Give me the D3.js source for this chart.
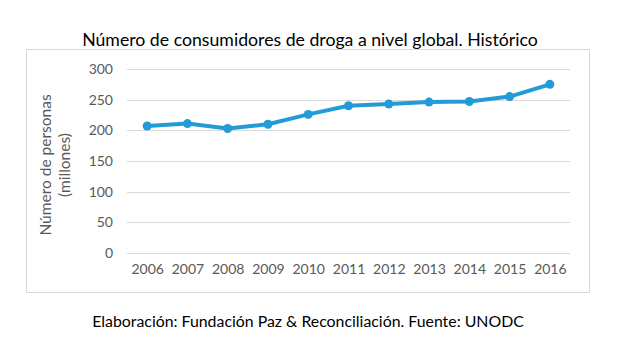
<!DOCTYPE html>
<html>
<head>
<meta charset="utf-8">
<script src="https://cdn.jsdelivr.net/npm/d3@7"></script>
<style>
  body { margin: 0; background: #fff; }
  svg { display: block; font-family: Lato, "Open Sans", sans-serif; }
</style>
</head>
<body>
<svg id="chart" width="620" height="355"></svg>
<script>
const years = ["2006","2007","2008","2009","2010","2011","2012","2013","2014","2015","2016"];
const consumidores = [207, 211, 203, 210, 226, 240, 243, 246, 247, 255, 275];
const yTicks = [0, 50, 100, 150, 200, 250, 300];
const titleText = "Número de consumidores de droga a nivel global. Histórico";
const yLabelLines = ["Número de personas", "(millones)"];
const footerText = "Elaboración: Fundación Paz & Reconciliación. Fuente: UNODC";

const svg = d3.select("#chart");
const plot = { left: 127, right: 570, top: 69, bottom: 253 };

// chart border
svg.append("rect")
  .attr("x", 26.5).attr("y", 49.5)
  .attr("width", 563).attr("height", 243)
  .attr("fill", "none").attr("stroke", "#d9d9d9").attr("stroke-width", 1);

const x = d3.scalePoint().domain(years).range([plot.left, plot.right]).padding(0.5);
const y = d3.scaleLinear().domain([0, 300]).range([plot.bottom, plot.top]);

// gridlines
svg.append("g").selectAll("line").data(yTicks).join("line")
  .attr("x1", plot.left).attr("x2", plot.right)
  .attr("y1", d => Math.round(y(d)) + 0.5).attr("y2", d => Math.round(y(d)) + 0.5)
  .attr("stroke", "#d9d9d9").attr("stroke-width", 1);

// y axis
const yAxis = svg.append("g")
  .attr("transform", `translate(${plot.left},0)`)
  .call(d3.axisLeft(y).tickValues(yTicks).tickSize(0).tickPadding(14));
yAxis.select(".domain").remove();
yAxis.selectAll("text").attr("fill", "#595959").style("font-size", "14px")
  .style("font-family", "Lato, 'Open Sans', sans-serif");

// x axis
const xAxis = svg.append("g")
  .attr("transform", `translate(0,${plot.bottom})`)
  .call(d3.axisBottom(x).tickSize(0).tickPadding(11));
xAxis.select(".domain").remove();
xAxis.selectAll("text").attr("fill", "#595959").style("font-size", "14px")
  .style("font-family", "Lato, 'Open Sans', sans-serif");

// line
const color = "#229bd8";
svg.append("path")
  .datum(consumidores)
  .attr("fill", "none").attr("stroke", color).attr("stroke-width", 4)
  .attr("stroke-linejoin", "round").attr("stroke-linecap", "round")
  .attr("d", d3.line().x((d, i) => x(years[i])).y(d => y(d)));

svg.append("g").selectAll("circle").data(consumidores).join("circle")
  .attr("cx", (d, i) => x(years[i])).attr("cy", d => y(d))
  .attr("r", 4.5).attr("fill", color);

// title
const title = svg.append("text")
  .attr("x", 310).attr("y", 46)
  .attr("text-anchor", "middle")
  .attr("fill", "#000")
  .style("font-size", "18px")
  .text(titleText);

// y label
const yl = svg.append("text")
  .attr("transform", "translate(51,165) rotate(-90)")
  .attr("text-anchor", "middle")
  .attr("fill", "#595959")
  .style("font-size", "15.5px");
yl.selectAll("tspan").data(yLabelLines).join("tspan")
  .attr("x", 0).attr("dy", (d, i) => i === 0 ? 0 : 19)
  .text(d => d);

// footer
const footer = svg.append("text")
  .attr("x", 308).attr("y", 327)
  .attr("text-anchor", "middle")
  .attr("fill", "#000")
  .style("font-size", "16px")
  .text(footerText);

// fit widths to reference
function fit(sel, target) {
  const w = sel.node().getComputedTextLength();
  const fs = parseFloat(sel.style("font-size"));
  sel.style("font-size", (fs * target / w).toFixed(2) + "px");
}
fit(title, 456);
fit(footer, 432);
</script>
</body>
</html>
